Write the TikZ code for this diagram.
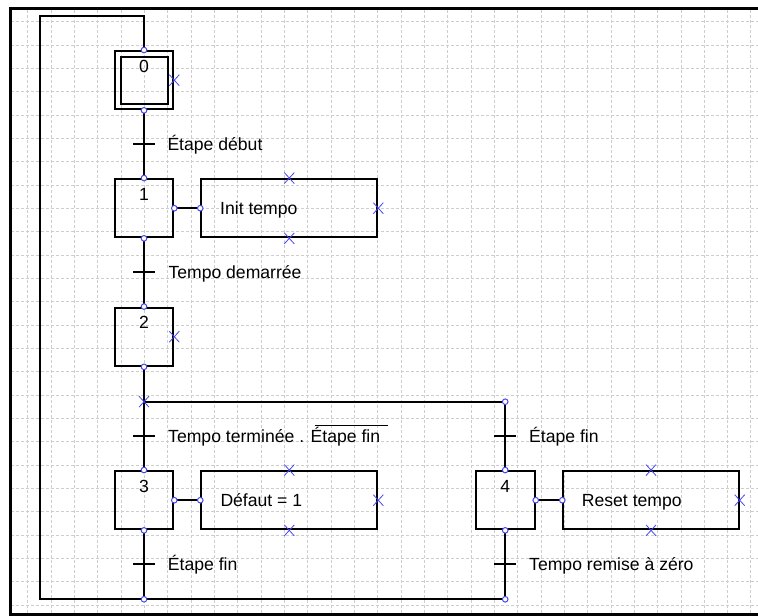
\documentclass[tikz,border=0pt]{standalone}
\usepackage{fontspec}
\setmainfont{Liberation Sans}
\definecolor{pinblue}{RGB}{70,70,245}
\definecolor{gridgray}{RGB}{205,205,205}
\begin{document}
\begin{tikzpicture}[x=1pt,y=-1pt,
  every node/.style={font=\fontsize{17.6}{20}\selectfont, inner sep=0pt},
  wire/.style={line width=2pt, black},
  stepbox/.style={draw, line width=2pt, minimum width=58.6pt, minimum height=58.3pt},
  innerbox/.style={draw, line width=2pt, minimum width=47pt, minimum height=46.6pt},
  actbox/.style={draw, line width=2pt, minimum width=176pt, minimum height=58.3pt},
  lbl/.style={anchor=base west},
  num/.style={anchor=base},
  gridline/.style={gridgray, line width=0.8pt, dash pattern=on 3pt off 2pt},
  pinc/.style={pinblue, line width=1pt, fill=white},
  pinx/.style={pinblue, line width=0.8pt}]
\useasboundingbox (0,0) rectangle (758,616);
% grid
\foreach \k in {1,...,32} \draw[gridline] (4.33+23.33*\k,10) -- (4.33+23.33*\k,613);
\foreach \k in {0,...,25} \draw[gridline] (11,21.7+23.33*\k) -- (758,21.7+23.33*\k);
% frame
\draw[line width=3pt] (10,622) -- (10,8.6) -- (770,8.6);
\draw[line width=2.5pt] (8.5,614.4) -- (770,614.4);
% steps
\node[stepbox] (s0) at (144,80.2) {};
\node[innerbox] (s0i) at (144,80.2) {};
\node[stepbox] (s1) at (144,208.2) {};
\node[stepbox] (s2) at (144,336.7) {};
\node[stepbox] (s3) at (144,500.2) {};
\node[stepbox, minimum width=59pt] (s4) at (505.2,500.2) {};
\node[num] (n0) at ([yshift=-22pt]s0.north) {0};
\node[num] (n1) at ([yshift=-22pt]s1.north) {1};
\node[num] (n2) at ([yshift=-22pt]s2.north) {2};
\node[num] (n3) at ([yshift=-22pt]s3.north) {3};
\node[num] (n4) at ([yshift=-22pt]s4.north) {4};
% actions
\node[actbox] (a1) at (289.3,208.2) {};
\node[actbox] (a3) at (289.3,500.2) {};
\node[actbox, minimum width=175.4pt] (a4) at (651,500.2) {};
\node[lbl] (a1t) at (220,214.4) {Init tempo};
\node[lbl] (a3t) at (220.3,506) {Défaut = 1};
\node[lbl] (a4t) at (581.7,506) {Reset tempo};
% coordinates
\coordinate (top) at (144,16);
\coordinate (tl) at (39.5,16);
\coordinate (bl) at (39.5,599.3);
\coordinate (j3) at (144,599.3);
\coordinate (j4) at (505.2,599.3);
\coordinate (div) at (144,401.7);
\coordinate (divR) at (505.2,401.7);
\coordinate (t01) at (144,144.3);
\coordinate (t12) at (144,272.3);
\coordinate (t23) at (144,436);
\coordinate (t3) at (144,564);
\coordinate (t24) at (505.2,436);
\coordinate (t4) at (505.2,564);
% connectors
\draw[wire] (s0.north) -- (top) -- (tl) -- (bl) -- (j4);
\draw[wire] (s0.south) -- (s1.north);
\draw[wire] (s1.south) -- (s2.north);
\draw[wire] (s2.south) -- (div) -- (s3.north);
\draw[wire] (div) -- (divR) -- (s4.north);
\draw[wire] (s3.south) -- (j3);
\draw[wire] (s4.south) -- (j4);
\draw[wire] (s1.east) -- (a1.west);
\draw[wire] (s3.east) -- (a3.west);
\draw[wire] (s4.east) -- (a4.west);
% transitions
\foreach \t in {t01,t12,t23,t3,t24,t4}
  \draw[wire] ([xshift=-11pt]\t) -- ([xshift=11pt]\t);
\node[lbl] (l01) at (167.3,150.6) {Étape début};
\node[lbl] (l12) at (168.3,278.6) {Tempo demarrée};
\node[lbl] (l23) at (168,442.3) {Tempo terminée . \rlap{\kern4pt\rule[16.5pt]{73.4pt}{0.9pt}}Étape fin};
\node[lbl] (l3) at (167.7,570.3) {Étape fin};
\node[lbl] (l24) at (529,442.3) {Étape fin};
\node[lbl] (l4) at (529,570.3) {Tempo remise à zéro};
% blue pins
\foreach \p in {s0.north,s0.south,s1.north,s1.south,s2.north,s2.south,
  s3.north,s3.south,s4.north,s4.south,s1.east,a1.west,s3.east,a3.west,
  s4.east,a4.west,divR,j3,j4}
  \draw[pinc] (\p) circle (2.8pt);
\foreach \p in {s0.east,s2.east,div,a1.north,a1.south,a1.east,
  a3.north,a3.south,a3.east,a4.north,a4.south,a4.east}
  \draw[pinx] ([shift={(-5pt,-5.5pt)}]\p) -- ([shift={(5pt,5.5pt)}]\p)
              ([shift={(-5pt,5.5pt)}]\p) -- ([shift={(5pt,-5.5pt)}]\p);
\end{tikzpicture}
\end{document}
